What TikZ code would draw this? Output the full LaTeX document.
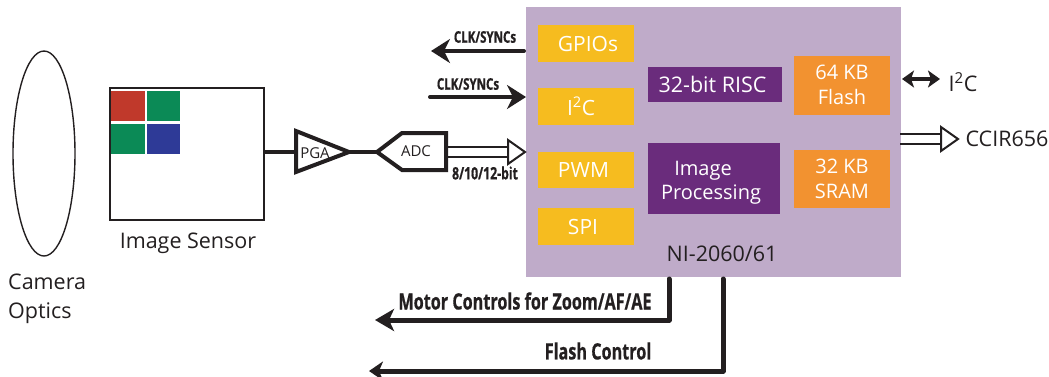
\documentclass[tikz,border=0pt]{standalone}
\usepackage{fontspec}
\setmainfont{Open Sans}
\newfontfamily\condb[FakeStretch=0.72,BoldFeatures={FakeBold=0.6}]{Open Sans}
\usetikzlibrary{arrows.meta,shapes.geometric}
\definecolor{lilac}{HTML}{BFABC9}
\definecolor{yel}{HTML}{F6BC1F}
\definecolor{org}{HTML}{F29230}
\definecolor{plum}{HTML}{6A2C7C}
\definecolor{ink}{HTML}{231F20}
\definecolor{pxred}{HTML}{C0392B}
\definecolor{pxgreen}{HTML}{0B8A56}
\definecolor{pxblue}{HTML}{2E3A97}
\tikzset{
 yelbox/.style={fill=yel,text=white,font=\fontsize{21}{23}\selectfont,inner sep=0pt},
 orgbox/.style={fill=org,text=white,font=\fontsize{20}{25}\selectfont,inner sep=0pt,align=center},
 plumbox/.style={fill=plum,text=white,font=\fontsize{20}{24}\selectfont,inner sep=0pt,align=center},
 lbl/.style={text=ink,font=\fontsize{21.5}{29}\selectfont,inner sep=0pt,align=center},
 cond/.style={text=ink,font=\condb\bfseries\fontsize{16}{18}\selectfont,inner sep=0pt},
 condl/.style={text=ink,font=\condb\bfseries\fontsize{22.5}{24}\selectfont,inner sep=0pt},
 small/.style={text=ink,font=\fontsize{15}{17}\selectfont,inner sep=0pt},
 wire/.style={draw=ink,line width=4pt,line cap=round,line join=round},
 thin arrow/.style={wire,-{Stealth[length=19pt,width=24pt,inset=6pt]}},
 pipe/.style={draw=ink,line width=2pt},
 hollow/.style={draw=ink,line width=2pt,fill=white,line join=miter},
 swatch/.style={inner sep=0pt},
}
\begin{document}
\begin{tikzpicture}[x=1pt,y=-1pt]
\useasboundingbox (0,0) rectangle (1049,376);
% chip
\node[fill=lilac,minimum width=375pt,minimum height=270pt,inner sep=0pt] (chip) at (713.5,142) {};
\node[yelbox,minimum width=96pt,minimum height=37pt] (gpio) at (586,43.5) {\hspace{4pt}GPIOs};
\node[yelbox,minimum width=96pt,minimum height=37pt] (i2c) at (586,106.5) {\hspace{-10pt}I\textsuperscript{2}C};
\node[yelbox,minimum width=96pt,minimum height=36pt] (pwm) at (586,170) {\hspace{-5pt}PWM};
\node[yelbox,minimum width=96pt,minimum height=37pt] (spi) at (586,226.5) {\hspace{-6pt}SPI};
\node[plumbox,font=\fontsize{21.5}{24}\selectfont,minimum width=134pt,minimum height=35pt] (risc) at (715,84.5) {\hspace{-5pt}32-bit RISC};
\node[plumbox,minimum width=132pt,minimum height=71pt,text depth=0pt] (img) at (714,178.5) {\raisebox{-3pt}{\hspace{-22pt}Image}\\ \raisebox{-3pt}{\hspace{-6pt}Processing}};
\node[orgbox,minimum width=96pt,minimum height=59pt] (flash) at (842,85.5) {\raisebox{1pt}{64 KB}\\\raisebox{1pt}{Flash}};
\node[orgbox,minimum width=96pt,minimum height=58pt] (sram) at (842,179) {\raisebox{1pt}{32 KB}\\\raisebox{1pt}{SRAM}};
\node[lbl] (ni) at (722,254) {NI-2060/61};
% optics
\node[draw=ink,line width=1.4pt,ellipse,minimum width=62pt,minimum height=205pt,inner sep=0pt] (optics) at (44,153.5) {};
\node[lbl,align=left,anchor=west] (optlbl) at (8,299) {Camera\\Optics};
% sensor
\node[draw=ink,line width=1.6pt,fill=white,minimum width=154pt,minimum height=132pt,inner sep=0pt] (sensor) at (187,154) {};
\node[swatch,fill=pxred,minimum width=34pt,minimum height=30pt] (pxa) at (128,106) {};
\node[swatch,fill=pxgreen,minimum width=33pt,minimum height=30pt] (pxb) at (163.5,106) {};
\node[swatch,fill=pxgreen,minimum width=34pt,minimum height=30pt] (pxc) at (128,139) {};
\node[swatch,fill=pxblue,minimum width=33pt,minimum height=30pt] (pxd) at (163.5,139) {};
\node[lbl] (senlbl) at (188,243) {Image Sensor};
% PGA and ADC
\coordinate (pgal) at (296,152);
\coordinate (pgar) at (349,152);
\coordinate (adct) at (377,152);
\draw[wire,line join=miter] (296,131) -- (pgar) -- (296,172) -- cycle;
\draw[wire,line join=miter] (adct) -- (402,133) -- (446,133) -- (446,170) -- (402,170) -- cycle;
\node[small] (pga) at (315,153) {PGA};
\node[small] (adc) at (416,151) {ADC};
\draw[wire,line cap=butt] (sensor.east |- pgal) -- (pgal);
\draw[wire,line cap=butt] (pgar) -- (adct);
% bus out of ADC
\draw[pipe] (446,147) -- (508,147) (446,157) -- (508,157);
\draw[hollow] (508,140) -- (525,152) -- (508,164) -- cycle;
\node[cond,font=\condb\bfseries\fontsize{17}{19}\selectfont] (bits) at (485,173) {8/10/12-bit};
% CLK arrows
\coordinate (clkoutl) at (431,51);
\coordinate (clkoutr) at (524,51);
\coordinate (clkinl) at (430,97);
\coordinate (clkinr) at (526,97);
\draw[thin arrow] (clkoutr) -- (clkoutl);
\draw[thin arrow] (clkinl) -- (clkinr);
\node[cond] (clka) at (485,37) {CLK/SYNCs};
\node[cond] (clkb) at (468,84) {CLK/SYNCs};
% right I2C
\coordinate (ra) at (902,79);
\coordinate (rb) at (940,79);
\draw[wire,line width=3.5pt,line cap=butt,{Stealth[length=12pt,width=17pt,inset=3pt]}-{Stealth[length=12pt,width=17pt,inset=3pt]}] (ra) -- (rb);
\node[lbl] (ri2c) at (963,82) {I\textsuperscript{2}C};
% CCIR
\draw[pipe] (900,134) -- (941,134) (900,144) -- (941,144);
\draw[hollow] (941,127) -- (958,139) -- (941,151) -- cycle;
\node[lbl] (ccir) at (1007,139) {CCIR656};
% bottom
\coordinate (ma) at (669,279);
\coordinate (mb) at (669,320);
\coordinate (mc) at (375,320);
\coordinate (fa) at (723,279);
\coordinate (fb) at (723,371);
\coordinate (fc) at (369,371);
\draw[wire,line width=5pt,-{Stealth[length=19pt,width=22pt,inset=5pt]}] (ma) -- (mb) -- (mc);
\draw[wire,line width=5pt,-{Stealth[length=14pt,width=19pt,inset=4pt]}] (fa) -- (fb) -- (fc);
\node[condl] (motor) at (525,301) {Motor Controls for Zoom/AF/AE};
\node[condl] (flashc) at (598,351) {Flash Control};
\end{tikzpicture}
\end{document}
